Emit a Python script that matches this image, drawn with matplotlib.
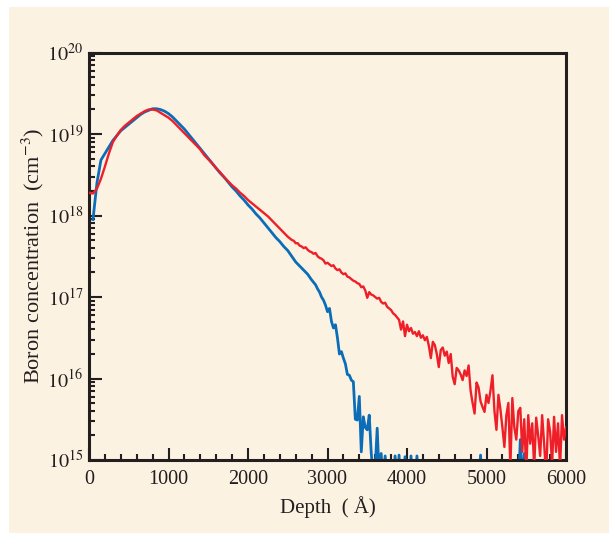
import numpy as np
import matplotlib
matplotlib.use("Agg")
import matplotlib.pyplot as plt
from matplotlib.ticker import MultipleLocator, LogLocator, NullFormatter, FixedLocator
from matplotlib.patches import Rectangle

# boron SIMS profiles, values are log10(concentration / cm^-3)
red_depth = np.concatenate([np.arange(0, 2501, 50), np.arange(2525, 6001, 25)])
red_log = [
    18.28, 18.27, 18.33, 18.45, 18.60, 18.76, 18.90, 18.98, 19.05, 19.10,
    19.14, 19.18, 19.22, 19.25, 19.28, 19.30, 19.30, 19.29, 19.26, 19.23,
    19.20, 19.16, 19.11, 19.06, 19.01, 18.96, 18.91, 18.86, 18.81, 18.74,
    18.69, 18.64, 18.58, 18.53, 18.47, 18.42, 18.37, 18.33, 18.28, 18.24,
    18.19, 18.15, 18.11, 18.07, 18.03, 17.99, 17.94, 17.89, 17.84, 17.79,
    17.74,
    # 2525 - 6000, every 25 A
    17.72, 17.70, 17.69, 17.66, 17.66, 17.63, 17.62, 17.60, 17.61, 17.58,
    17.56, 17.55, 17.53, 17.54, 17.50, 17.48, 17.47, 17.45, 17.41, 17.42,
    17.40, 17.38, 17.39, 17.35, 17.33, 17.34, 17.30, 17.28, 17.29, 17.25,
    17.24, 17.22, 17.20, 17.19, 17.17, 17.16, 17.12, 17.13, 17.08, 16.99,
    17.06, 17.03, 17.02, 17.00, 16.98, 16.99, 16.94, 16.92, 16.93, 16.88,
    16.86, 16.84, 16.80, 16.78, 16.75, 16.72, 16.60, 16.70, 16.52, 16.66,
    16.58, 16.62, 16.55, 16.57, 16.52, 16.58, 16.50, 16.53, 16.47, 16.51,
    16.40, 16.25, 16.45, 16.41, 16.30, 16.14, 16.35, 16.38, 16.28, 16.33,
    16.19, 16.30, 16.02, 15.93, 16.13, 16.10, 16.05, 15.98, 16.10, 16.03,
    16.16, 15.85, 15.70, 15.57, 15.95, 15.89, 15.72, 15.65, 15.59, 15.80,
    15.70, 15.85, 16.04, 15.60, 15.37, 15.80, 15.62, 15.40, 15.16, 15.55,
    15.70, 14.90, 15.76, 15.40, 15.25, 15.60, 15.64, 15.10, 15.50, 14.85,
    15.55, 15.20, 15.45, 14.90, 15.52, 15.30, 15.05, 15.55, 15.20, 14.80,
    15.50, 15.35, 14.95, 15.53, 15.10, 15.45, 14.90, 15.55, 15.25, 15.40,
]

blue_depth = np.concatenate([np.arange(50, 2801, 50), np.arange(2825, 6001, 25)])
blue_log = [
    17.95, 18.40, 18.68, 18.76, 18.84, 18.92, 18.98, 19.04, 19.08, 19.12,
    19.16, 19.20, 19.24, 19.27, 19.29, 19.31, 19.31, 19.30, 19.28, 19.25,
    19.21, 19.16, 19.11, 19.06, 19.00, 18.94, 18.88, 18.82, 18.76, 18.70,
    18.64, 18.58, 18.52, 18.47, 18.41, 18.35, 18.30, 18.24, 18.19, 18.13,
    18.08, 18.02, 17.97, 17.91, 17.85, 17.79, 17.73, 17.68, 17.62, 17.57,
    17.50, 17.43, 17.38, 17.33, 17.28, 17.21,
    # 2825 - 6000, every 25 A
    17.18, 17.15, 17.10, 17.06, 17.00, 16.96, 16.90, 16.82, 16.86, 16.70,
    16.62, 16.66, 16.50, 16.30, 16.33, 16.25, 16.18, 16.05, 16.04, 15.98,
    15.96, 15.50, 15.49, 15.78, 15.10, 15.53, 15.40, 15.37, 15.55, 15.09,
    14.80, 14.90, 15.39, 14.80, 15.08, 14.70, 15.05, 14.70, 14.60, 14.70,
    14.65, 15.05, 14.70, 15.06, 14.60, 14.70, 15.04, 14.70, 14.60, 15.05,
    14.70, 14.60, 15.05, 14.70, 14.60, 14.60, 14.60, 14.60, 14.60, 14.60,
    14.60, 14.60, 14.60, 14.60, 14.60, 14.60, 14.60, 14.60, 14.60, 14.60,
    14.60, 14.60, 14.60, 14.60, 14.60, 14.60, 14.60, 14.60, 14.60, 14.60,
    14.60, 14.60, 14.60, 14.60, 15.06, 14.60, 14.60, 14.60, 14.60, 14.60,
    14.60, 14.60, 14.60, 14.60, 14.60, 14.60, 14.60, 14.60, 14.60, 14.60,
    14.60, 14.60, 14.60, 14.60, 15.25, 14.70, 15.08, 14.60, 14.60, 14.60,
    14.60, 14.60, 14.60, 14.60, 14.60, 14.60, 14.60, 14.60, 14.60, 14.60,
    14.60, 14.60, 14.60, 14.60, 14.60, 14.60, 14.60, 14.60,
]

x_ticks = [0, 1000, 2000, 3000, 4000, 5000, 6000]
y_ticks = [1e15, 1e16, 1e17, 1e18, 1e19, 1e20]
y_labels = [r'$10^{15}$', r'$10^{16}$', r'$10^{17}$', r'$10^{18}$', r'$10^{19}$', r'$10^{20}$']

cream = '#FCF2E2'
ink = '#231F20'

plt.rcParams['font.family'] = ['Liberation Serif', 'DejaVu Serif']
plt.rcParams['mathtext.fontset'] = 'stix'

fig = plt.figure(figsize=(6.09, 5.33), dpi=100, facecolor='white')
fig.patches.append(Rectangle((9 / 609, 0.5 / 533), 600 / 609, 525.5 / 533,
                             transform=fig.transFigure, facecolor=cream,
                             edgecolor='none', zorder=-10))

ax = fig.add_axes([89 / 609, 1 - 460 / 533, 477 / 609, 407.5 / 533])
ax.set_facecolor(cream)

ax.plot(blue_depth, 10 ** np.array(blue_log), color='#0B6DB8', lw=2.0, zorder=2)
ax.plot(red_depth, 10 ** np.array(red_log), color='#EE1F29', lw=1.7, zorder=3)

ax.set_yscale('log')
ax.set_xlim(0, 6000)
ax.set_ylim(1e15, 1e20)

ax.xaxis.set_major_locator(FixedLocator(x_ticks))
ax.xaxis.set_minor_locator(MultipleLocator(200))
ax.set_xticklabels([str(t) for t in x_ticks])
ax.yaxis.set_major_locator(FixedLocator(y_ticks))
ax.set_yticklabels(y_labels)
ax.yaxis.set_minor_locator(LogLocator(base=10, subs=np.arange(2, 10), numticks=20))
ax.yaxis.set_minor_formatter(NullFormatter())

ax.tick_params(which='both', direction='in', top=False, right=False,
               color=ink, width=1.5, labelsize=14.5, labelcolor=ink)
ax.tick_params(which='major', length=9)
ax.tick_params(axis='x', which='major', pad=7)
ax.tick_params(axis='y', which='major', pad=4)
ax.tick_params(which='minor', length=4)
for s in ax.spines.values():
    s.set_linewidth(2.2)
    s.set_color(ink)

ax.set_xlabel('Depth  ( Å)', fontsize=15, color=ink, labelpad=5)
ax.set_ylabel(r'Boron concentration  (cm$^{-3}$)', fontsize=16, color=ink, labelpad=1)

fig.savefig('out.png', dpi=100, facecolor='white')
